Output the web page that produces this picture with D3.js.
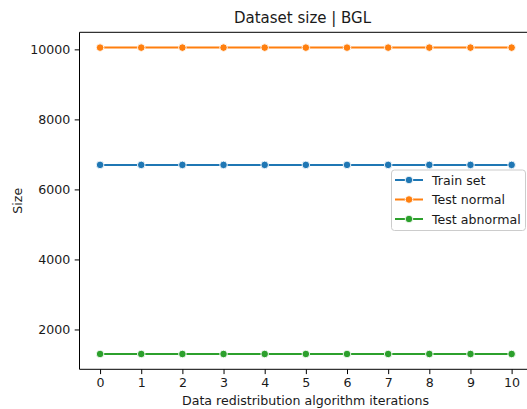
<!DOCTYPE html>
<html><head><meta charset="utf-8">
<script src="https://cdn.jsdelivr.net/npm/d3@7"></script>
<style>
html,body{margin:0;padding:0;background:#fff;}
text{font-family:"DejaVu Sans",sans-serif;fill:#1a1a1a;}
</style></head>
<body>
<svg id="chart" width="527" height="409"></svg>
<script>
const iterations = [0,1,2,3,4,5,6,7,8,9,10];
const trainSet = [6700,6700,6700,6700,6700,6700,6700,6700,6700,6700,6700];
const testNormal = [10050,10050,10050,10050,10050,10050,10050,10050,10050,10050,10050];
const testAbnormal = [1300,1300,1300,1300,1300,1300,1300,1300,1300,1300,1300];
const seriesNames = ["Train set","Test normal","Test abnormal"];
const seriesColors = ["#1f77b4","#ff7f0e","#2ca02c"];
const yTicks = [2000,4000,6000,8000,10000];
const xTicks = iterations;
const title = "Dataset size | BGL";
const xLabel = "Data redistribution algorithm iterations";
const yLabel = "Size";

const series = [trainSet, testNormal, testAbnormal];
const svg = d3.select("#chart");
const L = 79.5, R = 532.2, T = 32.3, B = 369.3;
const FS = "12.6px";

const allVals = series.flat();
const ymin = d3.min(allVals), ymax = d3.max(allVals), pad = (ymax - ymin) * 0.05;
const x = d3.scaleLinear().domain([-0.5, 10.5]).range([L, R]);
const y = d3.scaleLinear().domain([ymin - pad, ymax + pad]).range([B, T]);

const xa = svg.append("g").attr("transform", `translate(0,${B})`)
  .call(d3.axisBottom(x).tickValues(xTicks).tickFormat(d3.format("d")).tickSize(4.8).tickPadding(4));
const ya = svg.append("g").attr("transform", `translate(${L},0)`)
  .call(d3.axisLeft(y).tickValues(yTicks).tickFormat(d3.format("d")).tickSize(4.8).tickPadding(4.5));
[xa, ya].forEach(g => {
  g.select(".domain").remove();
  g.selectAll(".tick line").attr("stroke", "#000").attr("stroke-width", 1);
  g.selectAll(".tick text").attr("font-size", FS).attr("font-family", "DejaVu Sans").attr("fill", "#1a1a1a");
});

svg.append("line").attr("x1", L).attr("x2", L).attr("y1", T).attr("y2", B).attr("stroke", "#000").attr("stroke-width", 1);
svg.append("line").attr("x1", L).attr("x2", R).attr("y1", B).attr("y2", B).attr("stroke", "#000").attr("stroke-width", 1);
svg.append("line").attr("x1", L).attr("x2", R).attr("y1", T).attr("y2", T).attr("stroke", "#000").attr("stroke-width", 1);
svg.append("line").attr("x1", R).attr("x2", R).attr("y1", T).attr("y2", B).attr("stroke", "#000").attr("stroke-width", 1);

const line = d3.line().x((d, i) => x(iterations[i])).y(d => y(d));
series.forEach((s, k) => {
  svg.append("path").datum(s).attr("d", line).attr("fill", "none")
    .attr("stroke", seriesColors[k]).attr("stroke-width", 2);
  svg.append("g").selectAll("circle").data(s).join("circle")
    .attr("cx", (d, i) => x(iterations[i])).attr("cy", d => y(d)).attr("r", 3.8)
    .attr("fill", seriesColors[k]).attr("stroke", "#fff").attr("stroke-width", 0.9);
});

svg.append("text").attr("x", 302.5).attr("y", 23).attr("text-anchor", "middle")
  .attr("font-size", "15px").text(title);
svg.append("text").attr("x", 305.5).attr("y", 405).attr("text-anchor", "middle")
  .attr("font-size", FS).text(xLabel);
svg.append("text").attr("transform", `translate(22,${(T + B) / 2}) rotate(-90)`)
  .attr("text-anchor", "middle").attr("font-size", FS).text(yLabel);

const lg = svg.append("g");
lg.append("rect").attr("x", 391.5).attr("y", 170).attr("width", 134).attr("height", 60.5)
  .attr("rx", 3).attr("fill", "#fff").attr("fill-opacity", 0.8).attr("stroke", "#ccc").attr("stroke-width", 1);
seriesNames.forEach((n, k) => {
  const cy = 180 + k * 19.5;
  lg.append("line").attr("x1", 395).attr("x2", 423).attr("y1", cy).attr("y2", cy)
    .attr("stroke", seriesColors[k]).attr("stroke-width", 2);
  lg.append("circle").attr("cx", 409).attr("cy", cy).attr("r", 3.8)
    .attr("fill", seriesColors[k]).attr("stroke", "#fff").attr("stroke-width", 0.9);
  lg.append("text").attr("x", 432).attr("y", cy + 4.5).attr("font-size", FS).text(n);
});
</script>
</body></html>
